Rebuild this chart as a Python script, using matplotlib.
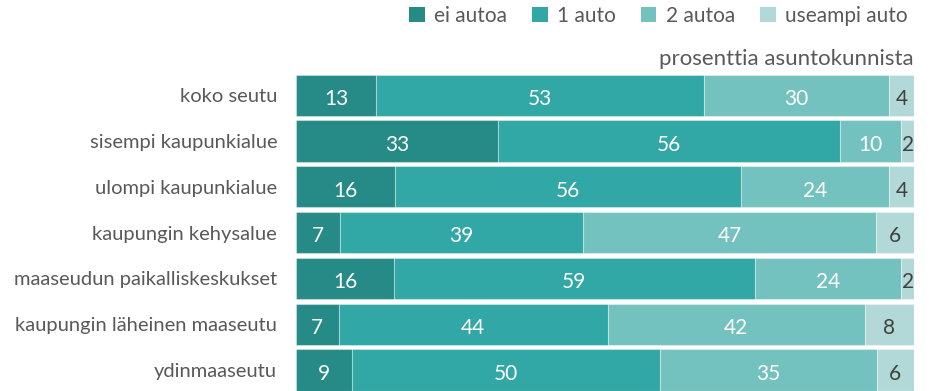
import matplotlib
matplotlib.use("Agg")
import matplotlib.pyplot as plt
from matplotlib.patches import Patch
import numpy as np

plt.rcParams['font.family'] = ['Lato', 'DejaVu Sans']

categories = [
    "koko seutu",
    "sisempi kaupunkialue",
    "ulompi kaupunkialue",
    "kaupungin kehysalue",
    "maaseudun paikalliskeskukset",
    "kaupungin läheinen maaseutu",
    "ydinmaaseutu",
]
series_names = ["ei autoa", "1 auto", "2 autoa", "useampi auto"]
ei_autoa = [13, 33, 16, 7, 16, 7, 9]
yksi_auto = [53, 56, 56, 39, 59, 44, 50]
kaksi_autoa = [30, 10, 24, 47, 24, 42, 35]
useampi_auto = [4, 2, 4, 6, 2, 8, 6]

colors = ["#268a87", "#31a8a5", "#74c2bf", "#b2d9d8"]
text_colors = ["white", "white", "white", "#404040"]

fig = plt.figure(figsize=(9.33, 3.91), dpi=100)
ax = fig.add_axes([296 / 933, 0, (913.7 - 296) / 933, 1 - 74.7 / 391])

series = [np.array(s, dtype=float) for s in [ei_autoa, yksi_auto, kaksi_autoa, useampi_auto]]
# each row is shown as a 100 % stacked bar (shares of the row total)
totals = np.sum(series, axis=0)
y = np.arange(len(categories))
left = np.zeros(len(categories))
for vals, col, tcol in zip(series, colors, text_colors):
    share = vals / totals * 100
    ax.barh(y, share, left=left, height=0.9, color=col,
            edgecolor=(1, 1, 1, 0.35), linewidth=0.8)
    for yi, l, w, v in zip(y, left, share, vals):
        ax.text(l + w / 2, yi + 0.08, f"{int(v)}", ha="center", va="center",
                color=tcol, fontsize=15)
    left += share

ax.set_xlim(0, 100)
ax.set_ylim(6.46, -0.45)
ax.set_yticks(y)
ax.set_yticklabels(categories, fontsize=14.5, color="#595959")
ax.tick_params(axis="y", length=0, pad=13.5)
ax.set_xticks([])
for s in ax.spines.values():
    s.set_visible(False)

fig.text(913.7 / 933, 1 - 59 / 391, "prosenttia asuntokunnista", ha="right",
         va="center", fontsize=16, color="#595959")

handles = [Patch(facecolor=c, edgecolor="none") for c in colors]
fig.legend(handles, series_names, loc="center right", ncol=4, frameon=False,
           bbox_to_anchor=(916 / 933, 1 - 16 / 391), fontsize=15,
           handlelength=0.75, handleheight=0.75, handletextpad=0.45,
           columnspacing=1.2, labelcolor="#595959", borderaxespad=0)

fig.savefig("out.png", dpi=100)
